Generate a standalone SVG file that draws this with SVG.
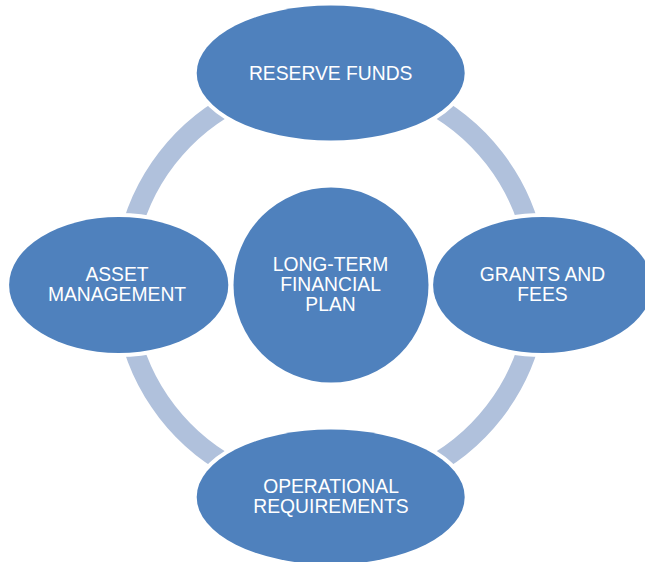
<svg xmlns="http://www.w3.org/2000/svg" width="645" height="562" viewBox="0 0 645 562">
<style>
.ring{fill:none;stroke:#B0C1DC;stroke-width:20}
.node{fill:#4F81BD;stroke:#FFFFFF;stroke-width:8;paint-order:stroke}
.lbl{font-family:"Liberation Sans",Arial,sans-serif;font-size:19.3px;fill:#FFFFFF;text-anchor:middle}
</style>
<rect width="645" height="562" fill="#FFFFFF"/>
<g id="connectors">
<path class="ring" d="M 127.4 246.5 A 207 207 0 0 1 242.7 97.6"/>
<path class="ring" d="M 418.7 97.6 A 207 207 0 0 1 534.0 246.5"/>
<path class="ring" d="M 534.0 323.5 A 207 207 0 0 1 418.7 472.4"/>
<path class="ring" d="M 242.7 472.4 A 207 207 0 0 1 127.4 323.5"/>
</g>
<g id="reserve-funds">
<ellipse class="node" cx="330.7" cy="73" rx="134" ry="67.5"/>
<text class="lbl" x="330.7" y="80">RESERVE FUNDS</text>
</g>
<g id="asset-management">
<ellipse class="node" cx="118.7" cy="285" rx="109.6" ry="68"/>
<text class="lbl" x="117" y="281.3">ASSET</text>
<text class="lbl" x="117" y="300.9">MANAGEMENT</text>
</g>
<g id="grants-and-fees">
<ellipse class="node" cx="542.7" cy="285" rx="109.6" ry="68"/>
<text class="lbl" x="542.5" y="281.3">GRANTS AND</text>
<text class="lbl" x="542.5" y="300.9">FEES</text>
</g>
<g id="operational-requirements">
<ellipse class="node" cx="330.7" cy="497" rx="134" ry="67.5"/>
<text class="lbl" x="331" y="493.3">OPERATIONAL</text>
<text class="lbl" x="331" y="513.3">REQUIREMENTS</text>
</g>
<g id="long-term-financial-plan">
<circle class="node" cx="331" cy="285" r="97.5"/>
<text class="lbl" x="330.5" y="270.7">LONG-TERM</text>
<text class="lbl" x="330.5" y="290.5">FINANCIAL</text>
<text class="lbl" x="330.5" y="310.5">PLAN</text>
</g>
</svg>
